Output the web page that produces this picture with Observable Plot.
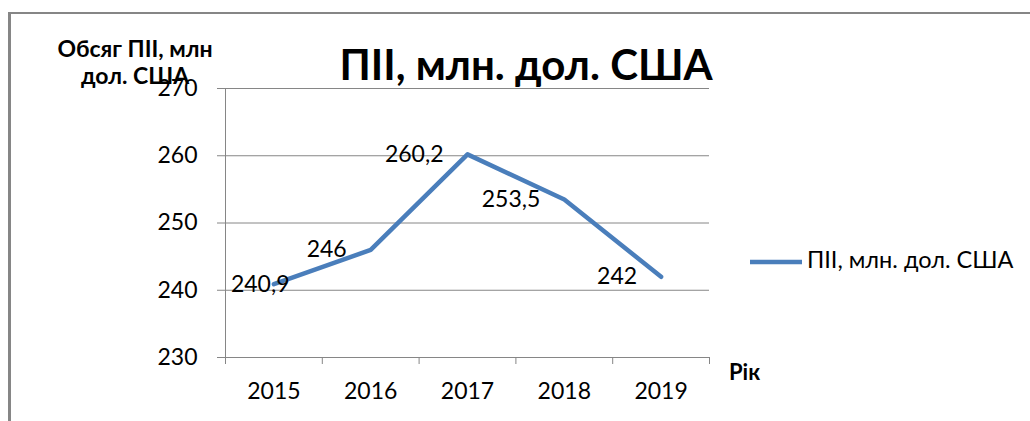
<!DOCTYPE html>
<html>
<head>
<meta charset="utf-8">
<script src="https://cdn.jsdelivr.net/npm/d3@7"></script>
<script src="https://cdn.jsdelivr.net/npm/@observablehq/plot@0.6"></script>
<style>
  html, body { margin: 0; padding: 0; background: #fff; overflow: hidden; }
  #wrap { position: relative; width: 1030px; height: 421px; }
  #wrap > svg { position: absolute; left: 0; top: 0; }
</style>
</head>
<body>
<div id="wrap"></div>
<script>
// ---- data ----
const years = [2015, 2016, 2017, 2018, 2019];
const values = [240.9, 246, 260.2, 253.5, 242];
const valueLabels = ["240,9", "246", "260,2", "253,5", "242"];
const yTicks = [230, 240, 250, 260, 270];
const seriesName = "ПІІ, млн. дол. США";
const chartTitle = "ПІІ, млн. дол. США";
const yTitle = ["Обсяг ПІІ, млн", "дол. США"];
const xTitle = "Рік";

const data = years.map((year, i) => ({year, value: values[i], label: valueLabels[i], i}));
const boundaries = [...years.map(y => y - 0.5), years[years.length - 1] + 0.5];

const gray = "#868686";
const blue = "#4A7EBB";
const font = "Lato, 'Open Sans', sans-serif";

const chart = Plot.plot({
  width: 1030,
  height: 421,
  marginLeft: 225,
  marginRight: 321,
  marginTop: 88,
  marginBottom: 64,
  style: {fontFamily: font, fontSize: "23px", color: "#000", background: "transparent", overflow: "visible"},
  x: {domain: [boundaries[0], boundaries[boundaries.length - 1]]},
  y: {domain: [yTicks[0], yTicks[yTicks.length - 1]]},
  marks: [
    Plot.gridY(yTicks, {stroke: gray, strokeOpacity: 1, strokeWidth: 1}),
    Plot.ruleX([boundaries[0]], {stroke: gray, strokeWidth: 1}),
    Plot.axisY(yTicks, {tickSize: 8, tickPadding: 20, stroke: gray, strokeOpacity: 1, tickFormat: d => String(d), label: null, fill: "#000"}),
    Plot.axisX(boundaries, {tickSize: 7, tickPadding: 0, stroke: gray, strokeOpacity: 1, tickFormat: () => "", label: null}),
    Plot.axisX(years, {tickSize: 0, tickPadding: 25, tickFormat: d => String(d), label: null, fill: "#000"}),
    Plot.line(data, {x: "year", y: "value", stroke: blue, strokeWidth: 4.5, strokeLinejoin: "round", strokeLinecap: "round"}),
    Plot.text(data, {filter: d => d.i > 0, x: "year", y: "value", text: "label", textAnchor: "end", dx: -24, fill: "#000", fontSize: 23}),
    Plot.text(data, {filter: d => d.i === 0, x: "year", y: "value", text: "label", textAnchor: "start", dx: -43, fill: "#000", fontSize: 23})
  ]
});

const wrap = document.getElementById("wrap");
wrap.appendChild(chart);

// ---- overlay: frame border, titles, legend ----
const ov = d3.select(wrap).append("svg")
  .attr("width", 1030).attr("height", 421)
  .style("font-family", font);

ov.append("line").attr("x1", 9.5).attr("x2", 9.5).attr("y1", 12).attr("y2", 421)
  .attr("stroke", gray).attr("stroke-width", 3);
ov.append("line").attr("x1", 8).attr("x2", 1030).attr("y1", 13).attr("y2", 13)
  .attr("stroke", gray).attr("stroke-width", 2);

ov.append("text").attr("x", 526).attr("y", 80).attr("text-anchor", "middle")
  .attr("font-size", 42).attr("font-weight", "bold").attr("fill", "#000").text(chartTitle);

ov.selectAll("text.yt").data(yTitle).join("text").attr("class", "yt")
  .attr("x", 135).attr("y", (d, i) => 57 + i * 27).attr("text-anchor", "middle")
  .attr("font-size", 23).attr("font-weight", "bold").attr("fill", "#000").text(d => d);

ov.append("text").attr("x", 729).attr("y", 380)
  .attr("font-size", 22).attr("font-weight", "bold").attr("fill", "#000").text(xTitle);

ov.append("line").attr("x1", 750).attr("x2", 802).attr("y1", 262).attr("y2", 262)
  .attr("stroke", blue).attr("stroke-width", 4.5);
ov.append("text").attr("x", 807).attr("y", 268)
  .attr("font-size", 23.5).attr("fill", "#000").text(seriesName);
</script>
</body>
</html>
